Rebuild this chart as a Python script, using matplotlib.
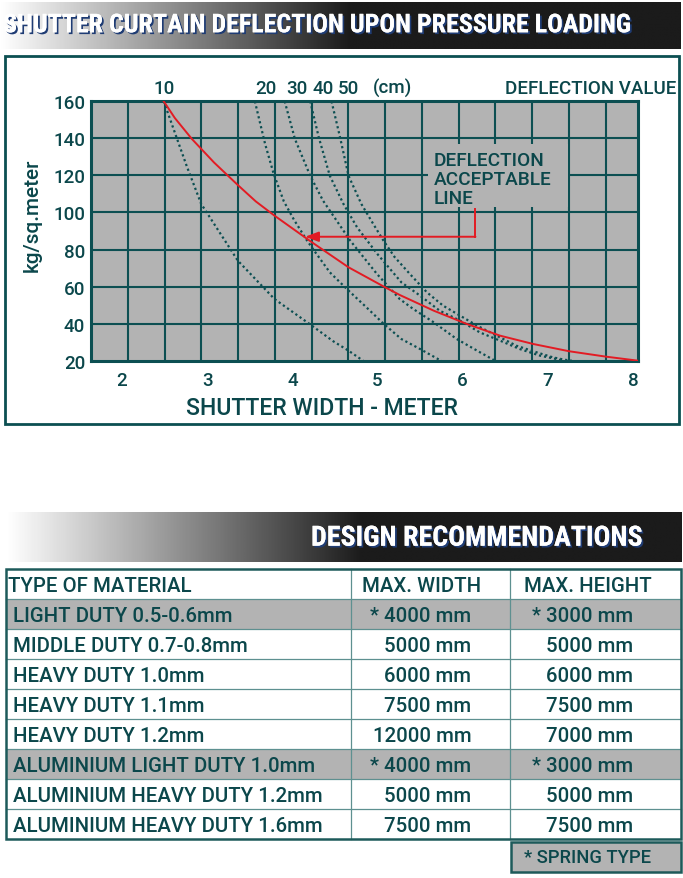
import matplotlib
matplotlib.use("Agg")
import matplotlib.pyplot as plt
from matplotlib import font_manager, patheffects
from matplotlib.patches import Rectangle
from matplotlib.colors import LinearSegmentedColormap
import matplotlib.transforms as mtransforms
import numpy as np

# ---------------- data ----------------
TITLE_TEXT = "SHUTTER CURTAIN DEFLECTION UPON PRESSURE LOADING"
TABLE_TITLE = "DESIGN RECOMMENDATIONS"

X_TICKS = [2, 3, 4, 5, 6, 7, 8]
Y_TICKS = [20, 40, 60, 80, 100, 120, 140, 160]
X_LABEL = "SHUTTER WIDTH - METER"
Y_LABEL = "kg/sq.meter"

DEFL_LABELS = ["10", "20", "30", "40", "50"]

C10_X = [2.49, 2.76, 2.93, 3.36, 3.79, 4.23, 4.48, 4.66, 4.83]
C10_Y = [160, 125.0, 104.6, 74.0, 53.3, 38.9, 30.5, 25.4, 20.0]

C20_X = [3.56, 3.68, 3.78, 3.90, 4.02, 4.17, 4.27, 4.44, 4.64, 4.87, 5.07, 5.28, 5.50, 5.71, 5.75]
C20_Y = [160, 137.0, 121.0, 106.0, 96.0, 85.0, 78.5, 67.7, 58.7, 48.8, 40.0, 31.7, 26.3, 20.9, 20.0]

C30_X = [3.91, 4.03, 4.21, 4.36, 4.52, 4.68, 4.99, 5.26, 5.42, 5.66, 5.93, 6.17, 6.36, 6.38]
C30_Y = [160, 139.7, 119.8, 106.4, 95.6, 84.8, 67.0, 53.3, 47.9, 40.7, 31.7, 25.4, 20.5, 20.0]

C40_X = [4.21, 4.31, 4.44, 4.60, 4.76, 5.00, 5.28, 5.50, 5.73, 5.97, 6.20, 6.44, 6.67, 6.91, 7.10, 7.18]
C40_Y = [160, 140.6, 119.8, 104.6, 92.0, 77.5, 62.3, 55.1, 47.0, 41.6, 35.3, 30.8, 26.3, 22.7, 20.9, 20.0]

C50_X = [4.46, 4.56, 4.66, 4.81, 4.95, 5.07, 5.20, 5.38, 5.58, 5.77, 5.97, 6.17, 6.40, 6.63, 6.87, 7.06, 7.20, 7.28]
C50_Y = [160, 140.6, 119.8, 104.6, 93.8, 84.8, 76.0, 66.8, 56.9, 49.7, 44.3, 38.9, 33.5, 28.1, 24.5, 21.8, 20.5, 20.0]

RED_X = [2.49, 2.62, 2.82, 3.08, 3.36, 3.57, 3.79, 4.23, 4.66, 5.09, 5.26, 5.66, 6.05, 6.44, 6.83, 7.25, 7.68, 8.06]
RED_Y = [160, 151.0, 139.7, 127.0, 114.8, 106.0, 98.3, 83.9, 70.4, 59.6, 55.5, 47.0, 39.8, 33.5, 29.0, 25.1, 22.2, 20.0]

ARROW_X = [6.15, 6.15, 4.15]
ARROW_Y = [101.9, 86.9, 86.9]
NOTE_LINES = ["DEFLECTION", "ACCEPTABLE", "LINE"]

HEADERS = ["TYPE OF MATERIAL", "MAX. WIDTH", "MAX. HEIGHT"]
MATERIALS = ["LIGHT DUTY 0.5-0.6mm", "MIDDLE DUTY 0.7-0.8mm", "HEAVY DUTY 1.0mm",
             "HEAVY DUTY 1.1mm", "HEAVY DUTY 1.2mm", "ALUMINIUM LIGHT DUTY 1.0mm",
             "ALUMINIUM HEAVY DUTY 1.2mm", "ALUMINIUM HEAVY DUTY 1.6mm"]
MAX_WIDTH = ["* 4000 mm", "5000 mm", "6000 mm", "7500 mm", "12000 mm", "* 4000 mm", "5000 mm", "7500 mm"]
MAX_HEIGHT = ["* 3000 mm", "5000 mm", "6000 mm", "7500 mm", "7000 mm", "* 3000 mm", "5000 mm", "7500 mm"]
FOOTNOTE = "* SPRING TYPE"

# ---------------- style ----------------
TEXT = "#0b474b"
GRID = "#0c4f52"
GRAY = "#b3b3b3"
RED = "#e31b23"
TBL_IN = "#5e9090"
TBL_OUT = "#1d5a5a"

W, H = 683, 879
ttf = font_manager.fontManager.ttflist
names = {f.name for f in ttf}
BODY = "Roboto" if "Roboto" in names else "DejaVu Sans"
TITLEF = "Roboto Condensed" if "Roboto Condensed" in names else BODY
has_medium = any(f.name == BODY and f.weight in (500, "medium") for f in ttf)
WT = 500 if has_medium else "normal"
plt.rcParams["font.family"] = [BODY, "DejaVu Sans"]
plt.rcParams["font.weight"] = WT

fig = plt.figure(figsize=(W / 100, H / 100), dpi=100)
R = fig.canvas.get_renderer()


def fit(s, target, **kw):
    t = fig.text(0, 0, s, fontsize=20, **kw)
    w = t.get_window_extent(renderer=R).width
    t.remove()
    return 20.0 * target / w


canvas = fig.add_axes([0, 0, 1, 1])
canvas.axis("off")
cmap = LinearSegmentedColormap.from_list("g", ["#ffffff", "#1b1b1b"])


def banner(x0, x1, y0, y1, dark_at):
    xs = np.linspace(x0, x1, 700)
    t = np.clip((xs - x0) / (dark_at - x0), 0, 1)
    canvas.imshow(t[None, :], cmap=cmap, extent=(x0, x1, y1, y0), aspect="auto",
                  vmin=0, vmax=1, interpolation="bilinear", zorder=0)


shadow = [patheffects.withSimplePatchShadow(offset=(1.3, -1.3), shadow_rgbFace="#1f3c74", alpha=1.0),
          patheffects.Normal()]

# title banner
banner(0, 681, 3, 50, 350)
fs_t = fit(TITLE_TEXT, 628, family=TITLEF, weight="bold")
canvas.text(3, 33.3, TITLE_TEXT, fontsize=fs_t, family=TITLEF, weight="bold", color="white",
            ha="left", va="baseline", path_effects=shadow)

# chart frame
canvas.add_patch(Rectangle((5, 57), 674, 368, fill=False, edgecolor=GRID, lw=2.0))

# ---------------- chart ----------------
ax = fig.add_axes([91 / W, 1 - 361.7 / H, (638.3 - 91) / W, (361.7 - 102.3) / H])
ax.set_facecolor(GRAY)
XL = (1.636, 8.062)
ax.set_xlim(*XL)
ax.set_ylim(20, 160)
fs_tick = fit("160", 32)
ax.set_xticks(X_TICKS)
ax.set_yticks(Y_TICKS)
ax.tick_params(axis="both", length=0, labelcolor=TEXT, labelsize=fs_tick)
ax.tick_params(axis="x", pad=7.3)
ax.tick_params(axis="y", pad=4.3)
for s in ax.spines.values():
    s.set_color(GRID)
    s.set_linewidth(2.2)

cell = (XL[1] - XL[0]) * 36.77 / 547.3
for k in range(1, 15):
    ax.axvline(XL[0] + k * cell, color=GRID, lw=1.5, zorder=1)
for gy in Y_TICKS[1:-1]:
    ax.axhline(gy, color=GRID, lw=1.5, zorder=1)

ax.add_patch(Rectangle((5.593, 102.96), 7.237 - 5.593, 136.96 - 102.96,
                       facecolor=GRAY, edgecolor="none", zorder=1.5))

for cx, cy in [(C10_X, C10_Y), (C20_X, C20_Y), (C30_X, C30_Y), (C40_X, C40_Y), (C50_X, C50_Y)]:
    ax.plot(cx, cy, color=GRID, lw=1.6, ls=(0, (1.0, 1.3)), zorder=3, solid_capstyle="butt")
ax.plot(RED_X, RED_Y, color=RED, lw=1.4, zorder=4)

ax.plot(ARROW_X[:2], ARROW_Y[:2], color=RED, lw=1.4, zorder=4)
ax.annotate("", xy=(ARROW_X[2], ARROW_Y[2]), xytext=(ARROW_X[1], ARROW_Y[1]),
            arrowprops=dict(arrowstyle="-|>,head_length=0.8,head_width=0.3", color=RED, lw=1.4,
                            shrinkA=0, shrinkB=0), zorder=4)

fs_note = fit(NOTE_LINES[0], 110)
for line, yb in zip(NOTE_LINES, [125.6, 115.4, 105.1]):
    ax.text(5.663, yb, line, fontsize=fs_note, color=TEXT, ha="left", va="baseline", zorder=5)

# deflection value labels
trans = mtransforms.blended_transform_factory(ax.transData, ax.transAxes)
LABEL_X = [2.49, 3.69, 4.05, 4.36, 4.66]
for lab, lx in zip(DEFL_LABELS, LABEL_X):
    ax.text(lx, 1.032, lab, transform=trans, fontsize=fs_tick, color=TEXT,
            ha="center", va="baseline", clip_on=False)
ax.text(5.18, 1.032, "(cm)", transform=trans, fontsize=fs_tick, color=TEXT,
        ha="center", va="baseline", clip_on=False)
fs_dv = fit("DEFLECTION VALUE", 171)
canvas.text(676, 94, "DEFLECTION VALUE", fontsize=fs_dv, color=TEXT, ha="right", va="baseline")

fs_xl = fit(X_LABEL, 271)
canvas.text(322, 415, X_LABEL, fontsize=fs_xl, color=TEXT, ha="center", va="baseline")
fs_yl = fit(Y_LABEL, 114)
canvas.text(32, 215, Y_LABEL, fontsize=fs_yl, color=TEXT, ha="center", va="center", rotation=90)

# ---------------- design recommendations ----------------
banner(6.5, 681, 512.7, 562.7, 362)
fs_d = fit(TABLE_TITLE, 332, family=TITLEF, weight="bold")
canvas.text(642, 546.7, TABLE_TITLE, fontsize=fs_d, family=TITLEF, weight="bold", color="white",
            ha="right", va="baseline", path_effects=shadow)

TX0, TX1, TY0, RH = 5.5, 681, 570, 30
COLS = [351, 510]
nrows = len(MATERIALS) + 1
for i, w in enumerate(MAX_WIDTH):
    if w.startswith("*"):
        canvas.add_patch(Rectangle((TX0, TY0 + RH * (i + 1)), TX1 - TX0, RH,
                                   facecolor=GRAY, edgecolor="none", zorder=1))
for k in range(1, nrows):
    canvas.plot([TX0, TX1], [TY0 + RH * k] * 2, color=TBL_IN, lw=0.9, zorder=2)
for cx in COLS:
    canvas.plot([cx, cx], [TY0, TY0 + RH * nrows], color=TBL_IN, lw=0.9, zorder=2)
canvas.add_patch(Rectangle((TX0, TY0), TX1 - TX0, RH * nrows, fill=False,
                           edgecolor=TBL_OUT, lw=1.8, zorder=3))

fs_tab = fit(MATERIALS[-1], 308)
for txt, hx in zip(HEADERS, [8, 361.6, 524]):
    canvas.text(hx, TY0 + RH - 8.3, txt, fontsize=fs_tab, color=TEXT, ha="left", va="baseline", zorder=4)
for i in range(len(MATERIALS)):
    yb = TY0 + RH * (i + 2) - 7.7
    canvas.text(13, yb, MATERIALS[i], fontsize=fs_tab, color=TEXT, ha="left", va="baseline", zorder=4)
    canvas.text(471.5, yb, MAX_WIDTH[i], fontsize=fs_tab, color=TEXT, ha="right", va="baseline", zorder=4)
    canvas.text(633, yb, MAX_HEIGHT[i], fontsize=fs_tab, color=TEXT, ha="right", va="baseline", zorder=4)

canvas.add_patch(Rectangle((511, 842.7), 170, 30, facecolor=GRAY, edgecolor=TBL_OUT, lw=1.8, zorder=3))
fs_fn = fit(FOOTNOTE, 127)
canvas.text(524, 863.3, FOOTNOTE, fontsize=fs_fn, color=TEXT, ha="left", va="baseline", zorder=4)

canvas.set_xlim(0, W)
canvas.set_ylim(H, 0)

fig.savefig("out.png", dpi=100)
